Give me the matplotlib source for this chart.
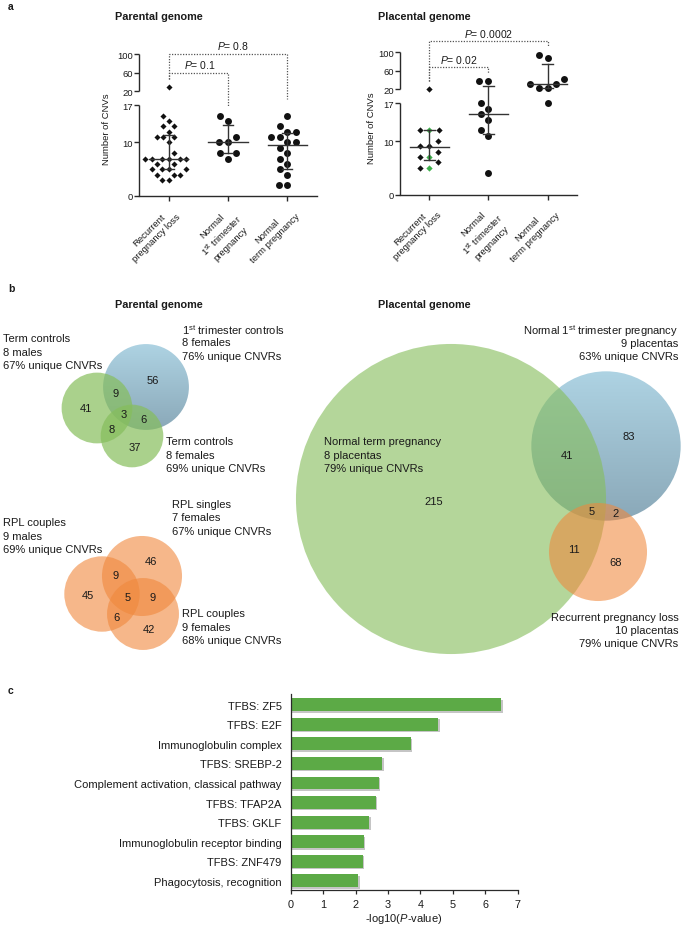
import numpy as np
import matplotlib
matplotlib.use("Agg")
import matplotlib.pyplot as plt
from matplotlib.patches import Circle
import matplotlib.patheffects as pe

plt.rcParams['font.family'] = ['Liberation Sans', 'DejaVu Sans']
plt.rcParams['mathtext.fontset'] = 'custom'
plt.rcParams['mathtext.rm'] = 'Liberation Sans'
plt.rcParams['mathtext.it'] = 'Liberation Sans:italic'
plt.rcParams['mathtext.bf'] = 'Liberation Sans:bold'

# ------------------------------------------------------------------ data
groups_a = ["Recurrent\npregnancy loss",
            "Normal\n1$^{\\mathrm{st}}$ trimester\npregnancy",
            "Normal\nterm pregnancy"]
yticks_a = [0, 10, 17, 20, 60, 100]

parental_rpl = [28, 15, 14, 13, 13, 12, 11, 11, 11, 10, 8, 7, 7, 7, 7, 7, 7,
                6, 6, 5, 5, 5, 5, 4, 4, 4, 3, 3]
parental_first = [15, 14, 11, 10, 10, 8, 8, 7]
parental_term = [15, 13, 12, 12, 11, 11, 10, 10, 9, 8, 7, 6, 5, 4, 2, 2]
parental_median = [7, 10, 9.5]
parental_q1 = [5, 8, 5]
parental_q3 = [11.4, 13.3, 11.8]
parental_p = ["0.1", "0.8"]

placental_rpl = [21, 12, 12, 10, 9, 9, 8, 7, 6, 5]
placental_rpl_green = [12, 7, 5]
placental_first = [38, 38, 17, 16, 15, 14, 12, 11, 4]
placental_term = [94, 87, 42, 31, 31, 24, 24, 17]
placental_median = [8.9, 15, 30.7]
placental_q1 = [6.5, 11.4, 23.6]
placental_q3 = [12, 26.4, 75]
placental_p = ["0.02", "0.0002"]

# Venn region counts: [A only, B only, C only], [AB, BC, AC], ABC
ven1_only = [41, 56, 37]
ven1_pairs = [9, 6, 8]
ven1_triple = 3
ven1_labels = [["Term controls", "8 males", "67% unique CNVRs"],
               ["1$^{\\mathrm{st}}$ trimester controls", "8 females", "76% unique CNVRs"],
               ["Term controls", "8 females", "69% unique CNVRs"]]

ven2_only = [45, 46, 42]
ven2_pairs = [9, 9, 6]
ven2_triple = 5
ven2_labels = [["RPL couples", "9 males", "69% unique CNVRs"],
               ["RPL singles", "7 females", "67% unique CNVRs"],
               ["RPL couples", "9 females", "68% unique CNVRs"]]

ven3_only = [215, 83, 68]
ven3_pairs = [41, 2, 11]
ven3_triple = 5
ven3_labels = [["Normal term pregnancy", "8 placentas", "79% unique CNVRs"],
               ["Normal 1$^{\\mathrm{st}}$ trimester pregnancy", "9 placentas", "63% unique CNVRs"],
               ["Recurrent pregnancy loss", "10 placentas", "79% unique CNVRs"]]

terms_c = ["TFBS: ZF5", "TFBS: E2F", "Immunoglobulin complex", "TFBS: SREBP-2",
           "Complement activation, classical pathway", "TFBS: TFAP2A", "TFBS: GKLF",
           "Immunoglobulin receptor binding", "TFBS: ZNF479", "Phagocytosis, recognition"]
neglogp_c = [6.49, 4.55, 3.70, 2.83, 2.71, 2.62, 2.42, 2.25, 2.23, 2.09]

# ------------------------------------------------------------------ figure
W, H = 685, 929
fig = plt.figure(figsize=(W / 100, H / 100), dpi=100)
TXT = '#1a1a1a'
AXC = '#2a2a2a'


def rect(x0, y0, x1, y1):
    return [x0 / W, 1 - y1 / H, (x1 - x0) / W, (y1 - y0) / H]


ov = fig.add_axes([0, 0, 1, 1])
ov.set_xlim(0, W)
ov.set_ylim(H, 0)
ov.set_autoscale_on(False)
ov.axis('off')

# broken axis scale
GAP = 14 / 5.35
K = (37 / 80) / 5.35


def fwd(y):
    y = np.asarray(y, dtype=float)
    return np.where(y <= 17, y, np.where(y < 20, 17 + (y - 17) * GAP / 3.0,
                                         17 + GAP + (y - 20) * K))


def inv(u):
    u = np.asarray(u, dtype=float)
    return np.where(u <= 17, u, np.where(u < 17 + GAP, 17 + (u - 17) * 3.0 / GAP,
                                         20 + (u - 17 - GAP) / K))


def swarm(ax, vals, dx_max, dy_max):
    """Anisotropic beeswarm in pixel space (GraphPad-like scatter spread)."""
    vals = np.asarray(vals, float)
    ypx = ax.transData.transform(np.column_stack([np.zeros_like(vals), vals]))[:, 1]
    ppu = ax.transData.transform([[1, 0]])[0, 0] - ax.transData.transform([[0, 0]])[0, 0]
    order = np.argsort(vals, kind='stable')
    placed = []
    xs = np.zeros(len(vals))

    def clash(c, y):
        for xj, yj in placed:
            if ((c - xj) / dx_max) ** 2 + ((y - yj) / dy_max) ** 2 < 1 - 1e-6:
                return True
        return False

    for i in order:
        y = ypx[i]
        cands = [0.0]
        for xj, yj in placed:
            dy = abs(y - yj)
            if dy < dy_max:
                dx = dx_max * np.sqrt(1 - (dy / dy_max) ** 2)
                cands += [xj - dx, xj + dx]
        ok = [c for c in cands if not clash(c, y)]
        c = min(ok, key=lambda c: (round(abs(c), 6), c))
        xs[i] = c
        placed.append((c, y))
    return xs / ppu


def setup_scatter(ax):
    ax.set_facecolor('none')
    ax.set_yscale('function', functions=(fwd, inv))
    ax.set_ylim(0, 100)
    ax.set_xlim(-0.5, 2.5)
    for s in ['top', 'right', 'left']:
        ax.spines[s].set_visible(False)
    ax.spines['bottom'].set_linewidth(1.0)
    ax.spines['bottom'].set_color(AXC)
    tr = ax.get_yaxis_transform()
    ax.plot([0, 0], [0, 17], transform=tr, color=AXC, lw=1.0, clip_on=False,
            solid_capstyle='butt')
    ax.plot([0, 0], [20, 100], transform=tr, color=AXC, lw=1.0, clip_on=False,
            solid_capstyle='butt')
    ax.set_yticks(yticks_a)
    ax.set_yticklabels([str(t) for t in yticks_a])
    ax.tick_params(axis='y', length=3.5, width=1.0, pad=1, labelsize=6.8,
                   colors=AXC, labelcolor=TXT)
    ax.set_xticks(range(3))
    ax.set_xticklabels(groups_a, rotation=45, ha='right', rotation_mode='anchor',
                       multialignment='center', fontsize=6.8, color=TXT)
    ax.tick_params(axis='x', length=3.5, width=1.0, pad=2, colors=AXC, labelcolor=TXT)


def summary(ax, med, q1, q3):
    for i in range(3):
        ax.plot([i - 0.33, i + 0.33], [med[i], med[i]], color='#333333', lw=1.0, zorder=4)
        ax.plot([i, i], [q1[i], q3[i]], color='#333333', lw=1.0, zorder=4)
        for q in (q1[i], q3[i]):
            ax.plot([i - 0.085, i + 0.085], [q, q], color='#333333', lw=1.0, zorder=4)


def bracket(ax, x_end, y_left, y_top, y_right, ptxt, xtext):
    kw = dict(color='#555555', lw=0.9, linestyle=(0, (1, 1.2)), clip_on=False)
    ax.plot([0, 0, x_end, x_end], [y_left, y_top, y_top, y_right], **kw)
    ax.annotate("$P$= " + ptxt, xy=(xtext, y_top), xytext=(0, 1.5),
                textcoords='offset points', ha='center', va='bottom', fontsize=7.5,
                color=TXT, annotation_clip=False)


# ---------------- panel a, parental
axL = fig.add_axes(rect(139, 55, 317, 197))
setup_scatter(axL)
for i, (vals, mk, ms, dxm) in enumerate([(parental_rpl, 'D', 3.1, 6.3),
                                         (parental_first, 'o', 5.0, 9.0),
                                         (parental_term, 'o', 5.0, 8.6)]):
    off = swarm(axL, vals, dxm, 10.5)
    axL.plot(i + off, vals, linestyle='none', marker=mk, ms=ms, color='#111111',
             mec='none', zorder=3, clip_on=False)
summary(axL, parental_median, parental_q1, parental_q3)
bracket(axL, 2, 46, 101, 18.3, parental_p[1], 1.08)
bracket(axL, 1, 46, 60, 16.8, parental_p[0], 0.53)

# ---------------- panel a, placental
axR = fig.add_axes(rect(400, 53.3, 577, 195.7))
setup_scatter(axR)
rpl_all = placental_rpl_green + placental_rpl
rpl_col = ['#3daf4a'] * len(placental_rpl_green) + ['#111111'] * len(placental_rpl)
off = swarm(axR, rpl_all, 9.5, 10.5)
for xo, v, c in zip(off, rpl_all, rpl_col):
    axR.plot(xo, v, linestyle='none', marker='D', ms=3.2, color=c, mec='none',
             zorder=3, clip_on=False)
for i, vals in [(1, placental_first), (2, placental_term)]:
    off = swarm(axR, vals, 9.0, 10.5)
    axR.plot(i + off, vals, linestyle='none', marker='o', ms=5.0, color='#111111',
             mec='none', zorder=3, clip_on=False)
summary(axR, placental_median, placental_q1, placental_q3)
bracket(axR, 2, 39, 123.5, 114, placental_p[1], 1.0)
bracket(axR, 1, 39, 68, 56, placental_p[0], 0.5)

# panel a texts
ov.text(8, 7, "a", fontsize=7.5, fontweight='bold', ha='left', va='center', color=TXT)
ov.text(115, 17, "Parental genome", fontsize=7.8, fontweight='bold', ha='left',
        va='center', color=TXT)
ov.text(378, 17, "Placental genome", fontsize=7.8, fontweight='bold', ha='left',
        va='center', color=TXT)
ov.text(107, 129, "Number of CNVs", rotation=90, fontsize=6.8, ha='center',
        va='center', color=TXT)
ov.text(372, 128, "Number of CNVs", rotation=90, fontsize=6.8, ha='center',
        va='center', color=TXT)

# ---------------- panel b (Venn diagrams)
GREEN = '#86be5c'
ORANGE = '#f0883c'


def blue_gradient_circle(cx, cy, r, top, bottom, z):
    t = np.linspace(0, 1, 256)[:, None]
    c0 = np.array(matplotlib.colors.to_rgb(top))
    c1 = np.array(matplotlib.colors.to_rgb(bottom))
    img = (c0[None, None, :] * (1 - t[..., None]) + c1[None, None, :] * t[..., None])
    img = np.repeat(img, 4, axis=1)
    im = ov.imshow(img, extent=(cx - r, cx + r, cy + r, cy - r), origin='upper',
                   aspect='auto', zorder=z, interpolation='bilinear')
    circ = Circle((cx, cy), r, transform=ov.transData)
    im.set_clip_path(circ)


def region_centroids(centers, radii):
    xs = np.arange(0, W, 0.5)
    ys = np.arange(250, 680, 0.5)
    X, Y = np.meshgrid(xs, ys)
    m = [((X - cx) ** 2 + (Y - cy) ** 2) <= r * r for (cx, cy), r in zip(centers, radii)]
    codes = {}
    for code in [(1, 0, 0), (0, 1, 0), (0, 0, 1), (1, 1, 0), (0, 1, 1), (1, 0, 1), (1, 1, 1)]:
        sel = np.ones_like(X, dtype=bool)
        for k in range(3):
            sel &= m[k] if code[k] else ~m[k]
        codes[code] = (X[sel].mean(), Y[sel].mean())
    return codes


def venn(only, pairs, triple, centers, scale, styles, order):
    totals = [only[0] + pairs[0] + pairs[2] + triple,
              only[1] + pairs[0] + pairs[1] + triple,
              only[2] + pairs[1] + pairs[2] + triple]
    radii = [scale * t for t in totals]
    for z, k in enumerate(order):
        (cx, cy), r = centers[k], radii[k]
        st = styles[k]
        if st[0] == 'blue':
            blue_gradient_circle(cx, cy, r, '#aed3e3', '#8aa8b8', 1 + z)
        else:
            ov.add_patch(Circle((cx, cy), r, facecolor=st[0], alpha=st[1],
                                edgecolor='none', zorder=1 + z))
    cen = region_centroids(centers, radii)
    counts = {(1, 0, 0): only[0], (0, 1, 0): only[1], (0, 0, 1): only[2],
              (1, 1, 0): pairs[0], (0, 1, 1): pairs[1], (1, 0, 1): pairs[2],
              (1, 1, 1): triple}
    for code, n in counts.items():
        x, y = cen[code]
        ov.text(x, y, str(n), fontsize=8, ha='center', va='center', color=TXT, zorder=10)


def set_label(lines, x, y0, ha):
    for j, s in enumerate(lines):
        ov.text(x, y0 + 13.3 * j, s, fontsize=8, ha=ha, va='center', color=TXT, zorder=10)


venn(ven1_only, ven1_pairs, ven1_triple, [(97, 409), (146, 388), (132, 437)], 0.58,
     [(GREEN, 0.7), ('blue', 1), (GREEN, 0.7)], [1, 0, 2])
venn(ven2_only, ven2_pairs, ven2_triple, [(102, 595), (142, 577), (143, 615)], 0.58,
     [(ORANGE, 0.6), (ORANGE, 0.6), (ORANGE, 0.6)], [0, 1, 2])
venn(ven3_only, ven3_pairs, ven3_triple, [(451, 500), (606, 447), (598, 553)], 0.57,
     [(GREEN, 0.62), ('blue', 1), (ORANGE, 0.58)], [1, 0, 2])

set_label(ven1_labels[0], 3, 339.3, 'left')
set_label(ven1_labels[1], 181.7, 330, 'left')
set_label(ven1_labels[2], 166, 442.3, 'left')
set_label(ven2_labels[0], 3, 523.3, 'left')
set_label(ven2_labels[1], 171.7, 505, 'left')
set_label(ven2_labels[2], 181.7, 614.3, 'left')
set_label(ven3_labels[0], 324, 442.3, 'left')
set_label(ven3_labels[1], 678.3, 330.7, 'right')
set_label(ven3_labels[2], 678.3, 617.7, 'right')

ov.text(8, 289, "b", fontsize=7.5, fontweight='bold', ha='left', va='center', color=TXT)
ov.text(115, 305, "Parental genome", fontsize=7.8, fontweight='bold', ha='left',
        va='center', color=TXT)
ov.text(378, 305, "Placental genome", fontsize=7.8, fontweight='bold', ha='left',
        va='center', color=TXT)

# ---------------- panel c
axc = fig.add_axes(rect(290.7, 695, 517.7, 891))
axc.set_facecolor('none')
bars = axc.barh(range(len(terms_c)), neglogp_c, height=0.66, color='#5caa46',
                edgecolor='none', zorder=2)
for b in bars:
    b.set_path_effects([pe.SimplePatchShadow(offset=(1.0, -1.0), shadow_rgbFace='#808080',
                                             alpha=0.45), pe.Normal()])
axc.set_ylim(len(terms_c) - 0.53, -0.55)
axc.set_xlim(0, 7)
axc.set_yticks(range(len(terms_c)))
axc.set_yticklabels(terms_c, fontsize=8, color=TXT)
axc.set_xticks(range(8))
axc.tick_params(axis='y', length=0, pad=6.5)
axc.tick_params(axis='x', length=3, width=0.9, labelsize=7.8, colors=AXC, labelcolor=TXT)
for s in ['top', 'right']:
    axc.spines[s].set_visible(False)
for s in ['left', 'bottom']:
    axc.spines[s].set_linewidth(0.9)
    axc.spines[s].set_color(AXC)
ov.text(404, 919, "-log10($P$-value)", fontsize=8, ha='center', va='center', color=TXT)
ov.text(8, 691, "c", fontsize=7.5, fontweight='bold', ha='left', va='center', color=TXT)

fig.savefig("out.png", dpi=100)
